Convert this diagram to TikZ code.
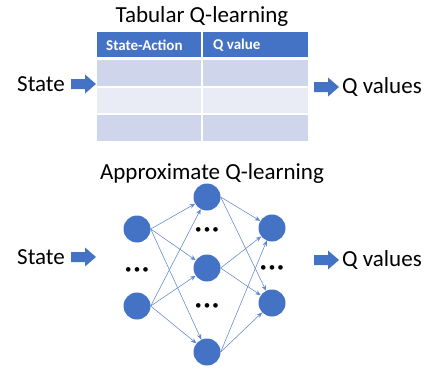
\documentclass[tikz,border=0pt]{standalone}
\usepackage{fontspec}
\setmainfont{Carlito}
\usetikzlibrary{arrows.meta}
\definecolor{hdr}{HTML}{4472C4}
\definecolor{rowA}{HTML}{CFD5EA}
\definecolor{rowB}{HTML}{E9EBF5}
\tikzset{
  lbl/.style={font=\fontsize{23}{26}\selectfont, inner sep=0pt},
  hdrtxt/.style={font=\fontsize{15}{17}\selectfont\bfseries, text=white, anchor=west, inner sep=0pt},
  neuron/.style={circle, fill=hdr, minimum size=27pt, inner sep=0pt},
  dots/.style={font=\fontsize{13}{13}\selectfont, inner sep=0pt},
  link/.style={hdr!85, line width=0.55pt, -{Stealth[length=5.5pt,width=4.5pt]}},
}
\newcommand{\blockarrow}[2]{% #1 = x start, #2 = y centre
  \fill[hdr] (#1,#2-5) -- ++(14,0) -- ++(0,-4.5) -- ++(11,9.5) -- ++(-11,9.5) -- ++(0,-4.5) -- ++(-14,0) -- cycle;}
\begin{document}
\begin{tikzpicture}[x=1pt,y=-1pt]
\useasboundingbox (0,0) rectangle (425,368);
% ---------- Tabular ----------
\node[lbl] (t1) at (202,16) {Tabular Q-learning};
\fill[hdr] (97,32) rectangle (201,57);
\fill[hdr] (203,32) rectangle (308,57);
\fill[rowA] (97,60) rectangle (201,86);
\fill[rowA] (203,60) rectangle (308,86);
\fill[rowB] (97,88) rectangle (201,113);
\fill[rowB] (203,88) rectangle (308,113);
\fill[rowA] (97,115) rectangle (201,141);
\fill[rowA] (203,115) rectangle (308,141);
\node[hdrtxt] (h1) at (106,45) {State-Action};
\node[hdrtxt] (h2) at (213,45) {Q value};
\node[lbl, anchor=west] (s1) at (17,84) {State};
\blockarrow{71}{84}
\blockarrow{314}{87}
\node[lbl, anchor=west] (q1) at (342,87) {Q values};
% ---------- Approximate ----------
\node[lbl] (t2) at (212,173) {Approximate Q-learning};
\node[lbl, anchor=west] (s2) at (17,257) {State};
\blockarrow{71}{257}
\blockarrow{314}{260}
\node[lbl, anchor=west] (q2) at (342,260) {Q values};
\node[neuron] (i1) at (137,229) {};
\node[neuron] (i2) at (137,306) {};
\node[neuron] (n1) at (207,197) {};
\node[neuron] (n2) at (207,268) {};
\node[neuron] (n3) at (207,352) {};
\node[neuron] (o1) at (272,228) {};
\node[neuron] (o2) at (272,303) {};
\node[dots] (d1) at (137,271) {•\,•\,•};
\node[dots] (d2) at (207,231) {•\,•\,•};
\node[dots] (d3) at (207,307) {•\,•\,•};
\node[dots] (d4) at (272,269) {•\,•\,•};
\foreach \s in {i1,i2}{\foreach \t in {n1,n2,n3}{\draw[link] (\s.east) -- (\t);}}
\foreach \s in {n1,n2,n3}{\foreach \t in {o1,o2}{\draw[link] (\s.east) -- (\t);}}
\end{tikzpicture}
\end{document}
